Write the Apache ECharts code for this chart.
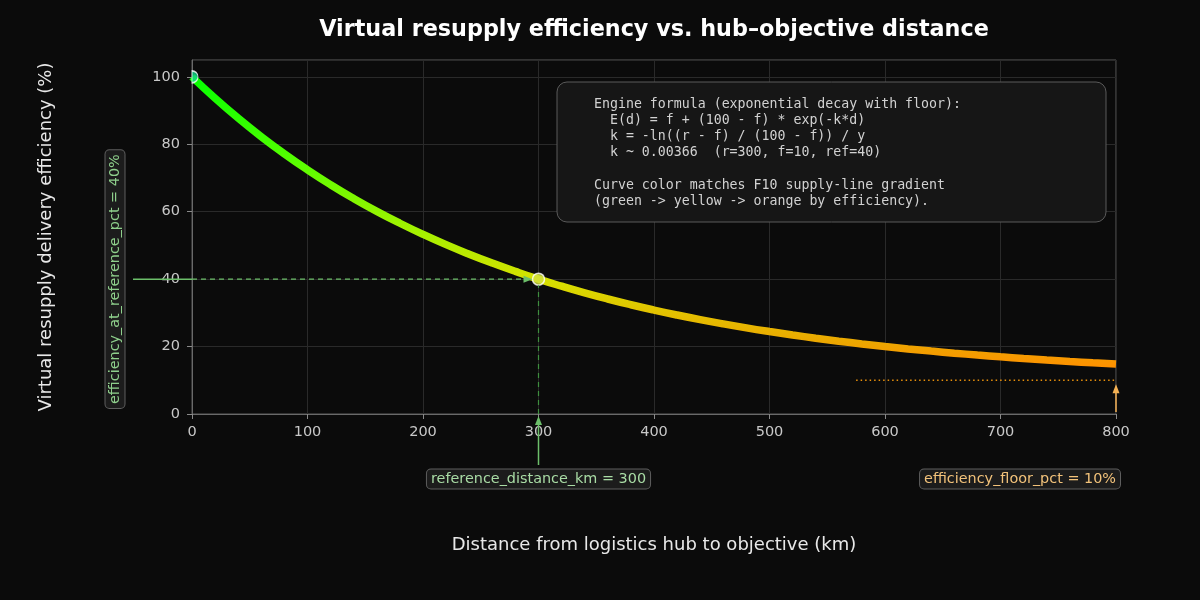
<!DOCTYPE html>
<html><head><meta charset="utf-8">
<script src="https://cdn.jsdelivr.net/npm/echarts@6/dist/echarts.min.js"></script>
<style>html,body{margin:0;padding:0;background:#0b0b0b}#c{width:1200px;height:600px}</style>
</head><body><div id="c"></div>
<script>
// ---- data ----
const distanceKm = [0,20,40,60,80,100,120,140,160,180,200,220,240,260,280,300,320,340,360,380,400,420,440,460,480,500,520,540,560,580,600,620,640,660,680,700,720,740,760,780,800];
const efficiencyPct = [100,93.65,87.74,82.25,77.16,72.42,68.01,63.92,60.11,56.58,53.29,50.23,47.40,44.76,42.30,40.0,37.91,35.94,34.11,32.41,30.83,29.36,27.99,26.72,25.54,24.45,23.43,22.48,21.60,20.78,20.02,19.31,18.66,18.05,17.48,16.95,16.46,16.00,15.58,15.19,14.82];
const xTickValues = [0,100,200,300,400,500,600,700,800];
const yTickValues = [0,20,40,60,80,100];
const referenceDistanceKm = 300;
const referenceEffPct = 40;
const floorPct = 10;
const floorLineStartKm = 575;
const titleText = 'Virtual resupply efficiency vs. hub\u2013objective distance';
const xAxisTitle = 'Distance from logistics hub to objective (km)';
const yAxisTitle = 'Virtual resupply delivery efficiency (%)';
const refXLabel = 'reference_distance_km = 300';
const refYLabel = 'efficiency_at_reference_pct = 40%';
const floorLabel = 'efficiency_floor_pct = 10%';
const infoLines = [
  'Engine formula (exponential decay with floor):',
  '  E(d) = f + (100 - f) * exp(-k*d)',
  '  k = -ln((r - f) / (100 - f)) / y',
  '  k ~ 0.00366  (r=300, f=10, ref=40)',
  '',
  'Curve color matches F10 supply-line gradient',
  '(green -> yellow -> orange by efficiency).'
];

const curveData = distanceKm.map((d, i) => [d, efficiencyPct[i]]);
const effMax = Math.max(...efficiencyPct), effMin = Math.min(...efficiencyPct);
const off = v => (effMax - v) / (effMax - effMin);

const chart = echarts.init(document.getElementById('c'), null, {renderer: 'canvas'});
const FONT = '"DejaVu Sans", sans-serif';

chart.setOption({
  backgroundColor: '#0b0b0b',
  animation: false,
  grid: {left: 192, right: 84, top: 60, bottom: 186, show: true, borderColor: '#5c5c5c', borderWidth: 1, backgroundColor: 'transparent'},
  xAxis: {
    type: 'value', min: 0, max: 800, interval: 100,
    name: xAxisTitle, nameLocation: 'middle', nameGap: 122,
    nameTextStyle: {color: '#e8e8e8', fontSize: 18, fontFamily: FONT},
    axisLine: {show: true, lineStyle: {color: '#6a6a6a'}},
    axisTick: {show: true, length: 5, lineStyle: {color: '#8a8a8a'}},
    axisLabel: {color: '#c8c8c8', fontSize: 14.5, fontFamily: FONT, margin: 11,
      formatter: v => (xTickValues.indexOf(v) >= 0 ? String(v) : '')},
    splitLine: {show: true, lineStyle: {color: '#2a2a2a', width: 1}}
  },
  yAxis: {
    type: 'value', min: 0, max: 105, interval: 20,
    name: yAxisTitle, nameLocation: 'middle', nameGap: 137,
    nameTextStyle: {color: '#e8e8e8', fontSize: 18, fontFamily: FONT},
    axisLine: {show: true, lineStyle: {color: '#6a6a6a'}},
    axisTick: {show: true, length: 5, lineStyle: {color: '#8a8a8a'}},
    axisLabel: {color: '#c8c8c8', fontSize: 14.5, fontFamily: FONT, margin: 12, showMaxLabel: false,
      formatter: v => (yTickValues.indexOf(v) >= 0 ? String(v) : '')},
    splitLine: {show: true, lineStyle: {color: '#2a2a2a', width: 1}}
  },
  series: [
    {
      type: 'line', data: curveData, smooth: true, showSymbol: false, z: 3,
      lineStyle: {
        width: 7.5, cap: 'butt',
        color: new echarts.graphic.LinearGradient(0, 0, 0, 1, [
          {offset: off(100), color: '#00ff00'},
          {offset: off(75), color: '#55ff00'},
          {offset: off(55), color: '#a2f200'},
          {offset: off(40), color: '#d6e000'},
          {offset: off(30), color: '#e4bf00'},
          {offset: off(22), color: '#eca600'},
          {offset: off(effMin), color: '#ff9000'}
        ])
      }
    },
    {
      // start point: clipped by the left spine, only the right half shows
      type: 'scatter', z: 5,
      symbol: 'path://M0,0 A10,10 0 0 1 0,20 Z', symbolSize: [6, 12], symbolOffset: [3, 0],
      data: [{value: [distanceKm[0], efficiencyPct[0]]}],
      itemStyle: {color: '#14d68a', borderColor: '#ffffff', borderWidth: 1.2}
    },
    {
      type: 'scatter', z: 5, symbolSize: 12,
      data: [{value: [referenceDistanceKm, referenceEffPct]}],
      itemStyle: {color: '#d2e040', borderColor: '#ffffff', borderWidth: 1.5}
    }
  ]
});

// ---- annotations anchored via the chart's own scales ----
const P = (x, y) => chart.convertToPixel({gridIndex: 0}, [x, y]);
const origin = P(0, 0);
const topRight = P(800, 105);
const refPt = P(referenceDistanceKm, referenceEffPct);
const refBase = P(referenceDistanceKm, 0);
const floorA = P(floorLineStartKm, floorPct);
const floorB = P(800, floorPct);
const gLeft = origin[0], gBottom = origin[1], gRight = topRight[0], gTop = topRight[1];
const gCx = (gLeft + gRight) / 2;

function head(tx, ty, dx, dy, color, len, w) {
  const L = Math.hypot(dx, dy), ux = dx / L, uy = dy / L;
  const bx = tx - ux * len, by = ty - uy * len;
  return {type: 'polygon', z: 20, shape: {points: [[tx, ty], [bx - uy * w / 2, by + ux * w / 2], [bx + uy * w / 2, by - ux * w / 2]]}, style: {fill: color}};
}
function line(x1, y1, x2, y2, color, width, dash) {
  return {type: 'line', z: 20, shape: {x1, y1, x2, y2}, style: {stroke: color, lineWidth: width, lineDash: dash || null}};
}
function boxText(x, y, text, color, align, rot) {
  return {type: 'text', z: 30, x, y, rotation: rot || 0,
    style: {text, fill: color, font: '14.4px ' + FONT, align: align || 'center', verticalAlign: 'middle',
      backgroundColor: '#1c1c1c', borderColor: '#5e5e5e', borderWidth: 1, borderRadius: 4, padding: [3, 4, 2, 4]}};
}

const green = '#6cbf6a';
const darkGreen = '#3f8f3f';
const orange = '#e8900c';
const lightOrange = '#f4b154';
const elems = [];
// title
elems.push({type: 'text', z: 30, x: gCx, y: 30, style: {text: titleText, fill: '#ffffff', font: 'bold 22.3px ' + FONT, align: 'center', verticalAlign: 'middle'}});
// horizontal reference arrow (y = 40)
elems.push(line(gLeft - 59, refPt[1], gLeft, refPt[1], green, 1.5));
elems.push(line(gLeft, refPt[1], refPt[0] - 12, refPt[1], green, 1.2, [5, 4]));
elems.push(head(refPt[0] - 6, refPt[1], 1, 0, green, 9, 7));
// vertical dashed drop line at x = 300
elems.push(line(refBase[0], gBottom, refBase[0], refPt[1] + 6, darkGreen, 1.2, [5, 4]));
// vertical arrow from label up to axis
elems.push(line(refBase[0], gBottom + 51, refBase[0], gBottom + 8, green, 1.5));
elems.push(head(refBase[0], gBottom + 2, 0, -1, green, 9, 7));
// floor dotted line and arrow
elems.push(line(floorA[0], floorA[1], floorB[0], floorB[1], orange, 1.5, [1.5, 3]));
elems.push(line(floorB[0], gBottom - 2, floorB[0], floorB[1] + 10, lightOrange, 1.5));
elems.push(head(floorB[0], floorB[1] + 4, 0, -1, lightOrange, 9, 7));
// labels
elems.push(boxText(refBase[0], gBottom + 65, refXLabel, '#a9dca5', 'center'));
elems.push(boxText(floorB[0] + 4, gBottom + 65, floorLabel, '#f2c27a', 'right'));
elems.push(boxText(gLeft - 77, refPt[1], refYLabel, '#8fd08c', 'center', Math.PI / 2));
// info box
const boxL = gLeft + 365, boxR = gRight - 10, boxT = gTop + 22, boxB = gTop + 162;
elems.push({type: 'rect', z: 25, shape: {x: boxL, y: boxT, width: boxR - boxL, height: boxB - boxT, r: 10},
  style: {fill: '#161616', stroke: '#5a5a5a', lineWidth: 1}});
elems.push({type: 'text', z: 26, x: boxL + 37, y: boxT + 14,
  style: {text: infoLines.join('\n'), fill: '#d2d2d2', font: '13.25px "DejaVu Sans Mono", monospace', lineHeight: 16.3, align: 'left', verticalAlign: 'top'}});

chart.setOption({graphic: {elements: elems}});
</script></body></html>
